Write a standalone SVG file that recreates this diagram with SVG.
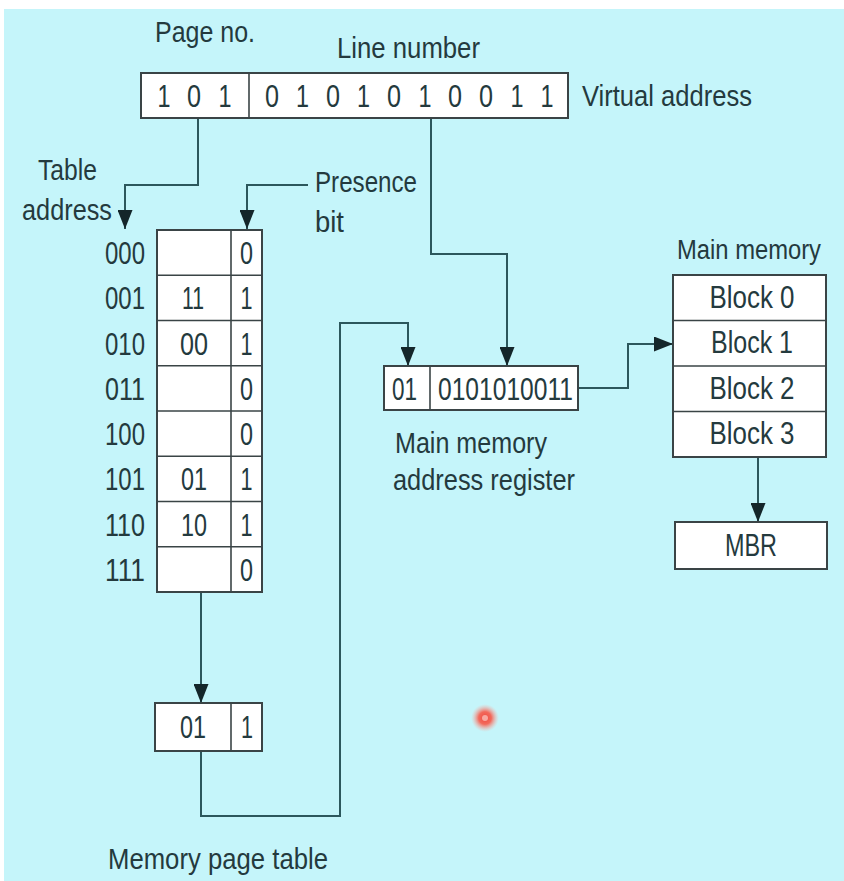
<svg xmlns="http://www.w3.org/2000/svg" width="844" height="881" viewBox="0 0 844 881">
<defs>
<style>
text{font-family:"Liberation Sans",Arial,sans-serif;fill:#243a3e}
.lb{font-size:29px}
.dg{font-size:32px;text-anchor:middle}
.tn{font-size:32px}
.box{fill:#ffffff;stroke:#3a4446;stroke-width:2}
.ln{fill:none;stroke:#3a4446;stroke-width:1.6}
.cn{fill:none;stroke:#2c575c;stroke-width:2}
</style>
<marker id="ah" viewBox="0 0 19 15" refX="19" refY="7.5" markerWidth="19" markerHeight="15" markerUnits="userSpaceOnUse" orient="auto">
<path d="M0,0 L19,7.5 L0,15 Z" fill="#14262a"/>
</marker>
<radialGradient id="dot">
<stop offset="0" stop-color="#f04a40"/>
<stop offset="0.45" stop-color="#f26a5c"/>
<stop offset="1" stop-color="#f9b8b0" stop-opacity="0"/>
</radialGradient>
</defs>
<rect x="0" y="0" width="844" height="881" fill="#ffffff"/>
<rect x="4" y="9" width="840" height="872" fill="#c5f5fa"/>

<g id="connectors">
<path class="cn" d="M198,118 V185 H125 V229" marker-end="url(#ah)"/>
<path class="cn" d="M308,185 H247 V229" marker-end="url(#ah)"/>
<path class="cn" d="M431,118 V254 H507 V366" marker-end="url(#ah)"/>
<path class="cn" d="M201,592 V703" marker-end="url(#ah)"/>
<path class="cn" d="M201,751 V816 H340 V323 H408 V366" marker-end="url(#ah)"/>
<path class="cn" d="M578,388 H628 V344 H673" marker-end="url(#ah)"/>
<path class="cn" d="M758,457 V522" marker-end="url(#ah)"/>
</g>

<g id="labels">
<text class="lb" x="155" y="42" textLength="100" lengthAdjust="spacingAndGlyphs">Page no.</text>
<text class="lb" x="337" y="58" textLength="143" lengthAdjust="spacingAndGlyphs">Line number</text>
<text class="lb" x="582" y="106" textLength="170" lengthAdjust="spacingAndGlyphs">Virtual address</text>
<text class="lb" x="38" y="180" textLength="59" lengthAdjust="spacingAndGlyphs">Table</text>
<text class="lb" x="22" y="220" textLength="90" lengthAdjust="spacingAndGlyphs">address</text>
<text class="lb" x="315" y="192" textLength="102" lengthAdjust="spacingAndGlyphs">Presence</text>
<text class="lb" x="315" y="232" textLength="29" lengthAdjust="spacingAndGlyphs">bit</text>
<text class="lb" x="108" y="869" textLength="220" lengthAdjust="spacingAndGlyphs">Memory page table</text>
</g>

<g id="virtual-address">
<rect class="box" x="141" y="73" width="427" height="45"/>
<line class="ln" x1="249" y1="73" x2="249" y2="118"/>
<text class="dg" x="164" y="107" textLength="13" lengthAdjust="spacingAndGlyphs">1</text>
<text class="dg" x="194" y="107" textLength="14" lengthAdjust="spacingAndGlyphs">0</text>
<text class="dg" x="225" y="107" textLength="13" lengthAdjust="spacingAndGlyphs">1</text>
<text class="dg" x="272" y="107" textLength="14" lengthAdjust="spacingAndGlyphs">0</text>
<text class="dg" x="302.5" y="107" textLength="13" lengthAdjust="spacingAndGlyphs">1</text>
<text class="dg" x="333" y="107" textLength="14" lengthAdjust="spacingAndGlyphs">0</text>
<text class="dg" x="363.5" y="107" textLength="13" lengthAdjust="spacingAndGlyphs">1</text>
<text class="dg" x="394" y="107" textLength="14" lengthAdjust="spacingAndGlyphs">0</text>
<text class="dg" x="425" y="107" textLength="13" lengthAdjust="spacingAndGlyphs">1</text>
<text class="dg" x="455" y="107" textLength="14" lengthAdjust="spacingAndGlyphs">0</text>
<text class="dg" x="486" y="107" textLength="14" lengthAdjust="spacingAndGlyphs">0</text>
<text class="dg" x="517" y="107" textLength="13" lengthAdjust="spacingAndGlyphs">1</text>
<text class="dg" x="547" y="107" textLength="13" lengthAdjust="spacingAndGlyphs">1</text>
</g>

<g id="page-table">
<rect class="box" x="157" y="230" width="105" height="362"/>
<line class="ln" x1="231" y1="230" x2="231" y2="592"/>
<line class="ln" x1="157" y1="275.25" x2="262" y2="275.25"/>
<line class="ln" x1="157" y1="320.5" x2="262" y2="320.5"/>
<line class="ln" x1="157" y1="365.75" x2="262" y2="365.75"/>
<line class="ln" x1="157" y1="411" x2="262" y2="411"/>
<line class="ln" x1="157" y1="456.25" x2="262" y2="456.25"/>
<line class="ln" x1="157" y1="501.5" x2="262" y2="501.5"/>
<line class="ln" x1="157" y1="546.75" x2="262" y2="546.75"/>
<text class="tn" x="105" y="264" textLength="40" lengthAdjust="spacingAndGlyphs">000</text>
<text class="tn" x="105" y="309" textLength="40" lengthAdjust="spacingAndGlyphs">001</text>
<text class="tn" x="105" y="355" textLength="40" lengthAdjust="spacingAndGlyphs">010</text>
<text class="tn" x="105" y="400" textLength="40" lengthAdjust="spacingAndGlyphs">011</text>
<text class="tn" x="105" y="445" textLength="40" lengthAdjust="spacingAndGlyphs">100</text>
<text class="tn" x="105" y="490" textLength="40" lengthAdjust="spacingAndGlyphs">101</text>
<text class="tn" x="105" y="536" textLength="40" lengthAdjust="spacingAndGlyphs">110</text>
<text class="tn" x="105" y="581" textLength="40" lengthAdjust="spacingAndGlyphs">111</text>
<text class="dg" x="193" y="309" textLength="22" lengthAdjust="spacingAndGlyphs">11</text>
<text class="dg" x="194" y="355" textLength="28" lengthAdjust="spacingAndGlyphs">00</text>
<text class="dg" x="194" y="490" textLength="26" lengthAdjust="spacingAndGlyphs">01</text>
<text class="dg" x="194" y="536" textLength="26" lengthAdjust="spacingAndGlyphs">10</text>
<text class="dg" x="246.5" y="264" textLength="13" lengthAdjust="spacingAndGlyphs">0</text>
<text class="dg" x="246.5" y="309" textLength="12" lengthAdjust="spacingAndGlyphs">1</text>
<text class="dg" x="246.5" y="355" textLength="12" lengthAdjust="spacingAndGlyphs">1</text>
<text class="dg" x="246.5" y="400" textLength="13" lengthAdjust="spacingAndGlyphs">0</text>
<text class="dg" x="246.5" y="445" textLength="13" lengthAdjust="spacingAndGlyphs">0</text>
<text class="dg" x="246.5" y="490" textLength="12" lengthAdjust="spacingAndGlyphs">1</text>
<text class="dg" x="246.5" y="536" textLength="12" lengthAdjust="spacingAndGlyphs">1</text>
<text class="dg" x="246.5" y="581" textLength="13" lengthAdjust="spacingAndGlyphs">0</text>
</g>

<g id="page-table-entry">
<rect class="box" x="155" y="703" width="107" height="48"/>
<line class="ln" x1="231" y1="703" x2="231" y2="751"/>
<text class="dg" x="193" y="738" textLength="26" lengthAdjust="spacingAndGlyphs">01</text>
<text class="dg" x="247" y="738" textLength="12" lengthAdjust="spacingAndGlyphs">1</text>
</g>

<g id="mar">
<rect class="box" x="384" y="366" width="194" height="44"/>
<line class="ln" x1="430" y1="366" x2="430" y2="410"/>
<text class="tn" x="392" y="400" textLength="25" lengthAdjust="spacingAndGlyphs">01</text>
<text class="tn" x="438" y="400" textLength="135" lengthAdjust="spacingAndGlyphs">0101010011</text>
<text class="lb" x="395" y="453" textLength="152" lengthAdjust="spacingAndGlyphs">Main memory</text>
<text class="lb" x="393" y="490" textLength="182" lengthAdjust="spacingAndGlyphs">address register</text>
</g>

<g id="main-memory">
<text x="677" y="259" font-size="27" textLength="144" lengthAdjust="spacingAndGlyphs">Main memory</text>
<rect class="box" x="673" y="275" width="153" height="182"/>
<line class="ln" x1="673" y1="320.5" x2="826" y2="320.5"/>
<line class="ln" x1="673" y1="366" x2="826" y2="366"/>
<line class="ln" x1="673" y1="411.5" x2="826" y2="411.5"/>
<text class="dg" x="752" y="308" textLength="85" lengthAdjust="spacingAndGlyphs">Block 0</text>
<text class="dg" x="752" y="353" textLength="82" lengthAdjust="spacingAndGlyphs">Block 1</text>
<text class="dg" x="752" y="399" textLength="85" lengthAdjust="spacingAndGlyphs">Block 2</text>
<text class="dg" x="752" y="444" textLength="85" lengthAdjust="spacingAndGlyphs">Block 3</text>
</g>

<g id="mbr">
<rect class="box" x="675" y="522" width="152" height="47"/>
<text class="dg" x="751" y="556" textLength="52" lengthAdjust="spacingAndGlyphs">MBR</text>
</g>

<circle cx="485" cy="718" r="14" fill="url(#dot)"/>
<circle cx="485" cy="718" r="3" fill="#f8a8a0"/>
</svg>
